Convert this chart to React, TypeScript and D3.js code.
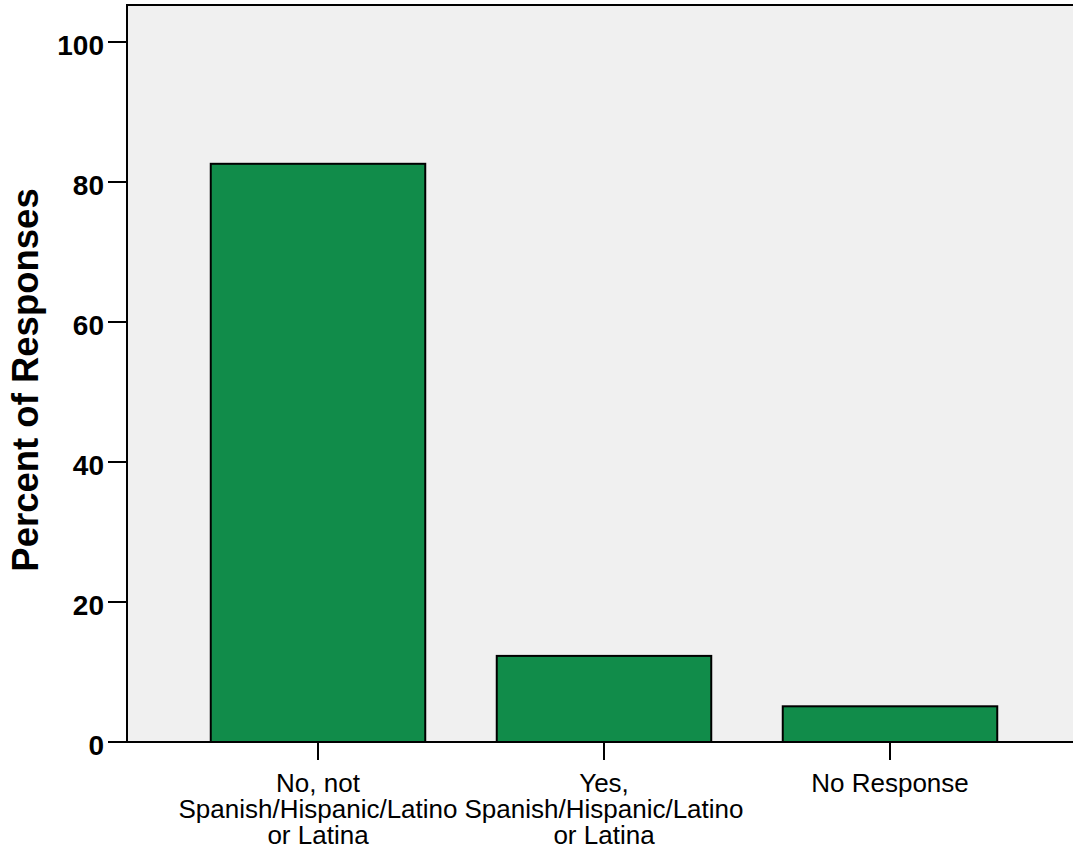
import React, { useEffect, useRef } from "react";
import * as d3 from "d3";

const categories: string[][] = [
  ["No, not", "Spanish/Hispanic/Latino", "or Latina"],
  ["Yes,", "Spanish/Hispanic/Latino", "or Latina"],
  ["No Response"],
];
const categoryKeys = ["no", "yes", "noresp"];
const percents = [82.6, 12.3, 5.1];
const yTicks = [0, 20, 40, 60, 80, 100];
const yTitle = "Percent of Responses";

const W = 1073;
const H = 854;
const FONT = "Liberation Sans, Arial, Helvetica, sans-serif";

export default function App() {
  const ref = useRef<SVGSVGElement>(null);

  useEffect(() => {
    const svg = d3.select(ref.current);
    svg.selectAll("*").remove();

    const left = 127;
    const right = 1073;
    const top = 5;
    const bottom = 742;

    const y = d3.scaleLinear().domain([0, 100]).range([bottom, 42]);
    const x = d3
      .scaleBand<string>()
      .domain(categoryKeys)
      .range([175, 1033])
      .paddingInner(0.25)
      .paddingOuter(0.125);

    svg
      .append("rect")
      .attr("x", left)
      .attr("y", top)
      .attr("width", right - left)
      .attr("height", bottom - top)
      .attr("fill", "#f0f0f0");

    svg
      .selectAll("rect.bar")
      .data(percents)
      .enter()
      .append("rect")
      .attr("class", "bar")
      .attr("x", (_, i) => x(categoryKeys[i])!)
      .attr("y", (d) => y(d))
      .attr("width", x.bandwidth())
      .attr("height", (d) => bottom - y(d))
      .attr("fill", "#118c4a")
      .attr("stroke", "#000")
      .attr("stroke-width", 2);

    svg
      .append("line")
      .attr("x1", left)
      .attr("x2", right)
      .attr("y1", top)
      .attr("y2", top)
      .attr("stroke", "#000")
      .attr("stroke-width", 2);
    svg
      .append("line")
      .attr("x1", left)
      .attr("x2", left)
      .attr("y1", top - 1)
      .attr("y2", bottom)
      .attr("stroke", "#000")
      .attr("stroke-width", 2);
    svg
      .append("line")
      .attr("x1", left - 1)
      .attr("x2", right)
      .attr("y1", bottom)
      .attr("y2", bottom)
      .attr("stroke", "#000")
      .attr("stroke-width", 2);

    const yt = svg.append("g");
    yTicks.forEach((t) => {
      yt.append("line")
        .attr("x1", left - 19)
        .attr("x2", left)
        .attr("y1", y(t))
        .attr("y2", y(t))
        .attr("stroke", "#000")
        .attr("stroke-width", 2);
      yt.append("text")
        .attr("x", left - 23)
        .attr("y", y(t) + 13)
        .attr("text-anchor", "end")
        .attr("font-family", FONT)
        .attr("font-weight", "bold")
        .attr("font-size", 28)
        .attr("fill", "#000")
        .text(String(t));
    });

    categoryKeys.forEach((k, i) => {
      const cx = x(k)! + x.bandwidth() / 2;
      svg
        .append("line")
        .attr("x1", cx)
        .attr("x2", cx)
        .attr("y1", bottom)
        .attr("y2", bottom + 18)
        .attr("stroke", "#000")
        .attr("stroke-width", 2);
      const txt = svg
        .append("text")
        .attr("text-anchor", "middle")
        .attr("font-family", FONT)
        .attr("font-size", 26)
        .attr("fill", "#000");
      categories[i].forEach((line, j) => {
        txt
          .append("tspan")
          .attr("x", cx)
          .attr("y", 792 + j * 26)
          .text(line);
      });
    });

    svg
      .append("text")
      .attr("transform", `translate(38, 380) rotate(-90)`)
      .attr("text-anchor", "middle")
      .attr("font-family", FONT)
      .attr("font-weight", "bold")
      .attr("font-size", 36.5)
      .attr("fill", "#000")
      .text(yTitle);
  }, []);

  return (
    <svg
      ref={ref}
      width={W}
      height={H}
      style={{ position: "absolute", left: 0, top: 0, background: "#fff" }}
    />
  );
}
